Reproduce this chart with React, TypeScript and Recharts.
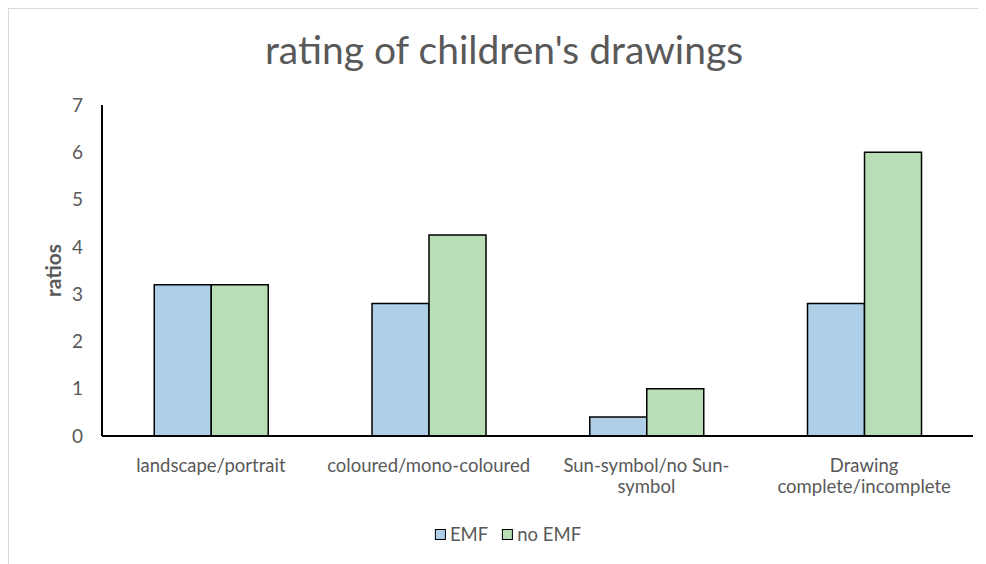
import React from 'react';
import { BarChart, Bar, XAxis, YAxis } from 'recharts';

const categories = [
  'landscape/portrait',
  'coloured/mono-coloured',
  'Sun-symbol/no Sun-symbol',
  'Drawing complete/incomplete',
];
const tickLabelLines = [
  ['landscape/portrait'],
  ['coloured/mono-coloured'],
  ['Sun-symbol/no Sun-', 'symbol'],
  ['Drawing', 'complete/incomplete'],
];
const emfValues = [3.2, 2.8, 0.4, 2.8];
const noEmfValues = [3.2, 4.25, 1.0, 6.0];
const yTicks = [0, 1, 2, 3, 4, 5, 6, 7];
const seriesNames = ['EMF', 'no EMF'];
const title = "rating of children's drawings";
const yLabel = 'ratios';

const data = categories.map((c, i) => ({ name: c, emf: emfValues[i], noEmf: noEmfValues[i] }));

const FONT = 'Lato, "Open Sans", sans-serif';
const TEXT = '#595959';
const BLUE = '#AECFE7';
const GREEN = '#B9DDB4';

const XTick = (props: any) => {
  const { x, y, payload } = props;
  const idx = categories.indexOf(payload.value);
  const lines = tickLabelLines[idx] || [payload.value];
  return (
    <text x={x} y={y} textAnchor="middle" fill={TEXT} fontSize={18.5} fontFamily={FONT}>
      {lines.map((l: string, i: number) => (
        <tspan key={i} x={x} y={y + 36 + i * 21}>{l}</tspan>
      ))}
    </text>
  );
};

const YLabel = (props: any) => {
  const { viewBox } = props;
  const cx = viewBox.x + 10;
  const cy = viewBox.y + viewBox.height / 2;
  return (
    <text x={cx} y={cy} transform={`rotate(-90, ${cx}, ${cy})`} textAnchor="middle" dominantBaseline="central"
      fill={TEXT} fontSize={21} fontWeight="bold" fontFamily={FONT}>
      {yLabel}
    </text>
  );
};

export default function App() {
  return (
    <div style={{ position: 'relative', width: 978, height: 556, borderLeft: '1px solid #d9d9d9', borderTop: '1px solid #d9d9d9', boxSizing: 'border-box', fontFamily: FONT }}>
      <style>{'html,body{overflow:hidden}'}</style>
      <div style={{ position: 'absolute', left: 495, top: 21, transform: 'translateX(-50%)', whiteSpace: 'nowrap', fontSize: 39, lineHeight: '39px', color: TEXT }}>
        {title}
      </div>
      <BarChart width={977} height={555} data={data} margin={{ top: 96, right: 13, bottom: 68, left: 33 }} barCategoryGap="24%" barGap={0}>
        <XAxis dataKey="name" height={60} tickLine={false} tickSize={0} tickMargin={0} interval={0}
          axisLine={{ stroke: '#000', strokeWidth: 2 }} tick={<XTick />} />
        <YAxis width={60} domain={[0, 7]} ticks={yTicks} interval={0} tickLine={false} tickSize={0} tickMargin={19}
          axisLine={{ stroke: '#000', strokeWidth: 2 }} tick={{ fill: TEXT, fontSize: 19, fontFamily: FONT }}
          label={<YLabel />} />
        <Bar dataKey="emf" name={seriesNames[0]} fill={BLUE} stroke="#000" strokeWidth={1.5} isAnimationActive={false} />
        <Bar dataKey="noEmf" name={seriesNames[1]} fill={GREEN} stroke="#000" strokeWidth={1.5} isAnimationActive={false} />
      </BarChart>
      <div style={{ position: 'absolute', left: 499, top: 515, transform: 'translateX(-50%)', display: 'flex', alignItems: 'center', whiteSpace: 'nowrap', fontSize: 18.5, color: TEXT, lineHeight: '20px' }}>
        {seriesNames.map((n, i) => (
          <span key={n} style={{ display: 'flex', alignItems: 'center', marginRight: i === 0 ? 14 : 0 }}>
            <span style={{ display: 'inline-block', width: 11, height: 11, boxSizing: 'border-box', background: i === 0 ? BLUE : GREEN, border: '1.5px solid #000', marginRight: 4 }} />
            {n}
          </span>
        ))}
      </div>
    </div>
  );
}
